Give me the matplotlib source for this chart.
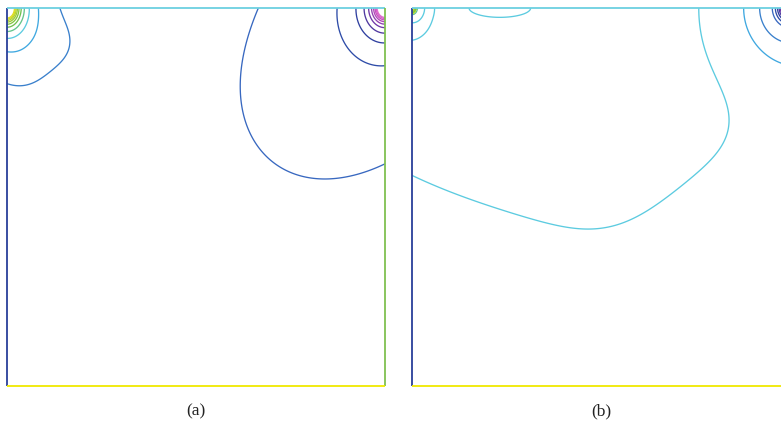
import numpy as np
import matplotlib
matplotlib.use("Agg")
import matplotlib.pyplot as plt

# ---------------- data ----------------
# contour levels (value 0 is not drawn) and their colours
LEVELS = [-10, -9, -8, -7, -6, -5, -4, -3, -2, -1, 1, 2, 3, 4, 5, 6, 7, 8, 9, 10]
LEVEL_COLORS = ['#e070d0', '#d860c8', '#c850c0', '#b048b8', '#9040b0', '#7038a8',
                '#5038a0', '#3040a0', '#2e4ca8', '#3868c0', '#3a80cc', '#40a8e0',
                '#5ccbe0', '#64c48c', '#70c050', '#84c440', '#9cca38', '#b4d030',
                '#ccd828', '#e0e020']

# panel (a): corner singularities + bumps + background
A_BASE, A_GY = -0.35, 0.0
A_SRC_X = [0.0, 1.0]
A_SRC_Y = [1.0, 1.0]
A_SRC_Q = [0.208, -0.20]
A_SRC_STRETCH = [1.35, 1.2]
A_BUMP_X = [0.71, 0.14, 0.05]
A_BUMP_Y = [0.74, 0.90, 0.83]
A_BUMP_AMP = [-0.54, 0.54, 0.30]
A_BUMP_SX = [0.27, 0.06, 0.05]
A_BUMP_SY = [0.30, 0.06, 0.05]
A_FILL_LEVEL = None

# panel (b)
B_BASE, B_GY = 2.83, 0.256
B_SRC_X = [0.0, 1.0]
B_SRC_Y = [1.0, 1.0]
B_SRC_Q = [0.03, -0.22]
B_SRC_STRETCH = [1.25, 1.1]
B_BUMP_X = [0.60, 0.235, 0.84, 0.52, 0.0]
B_BUMP_Y = [1.00, 1.0, 0.76, 0.36, 1.0]
B_BUMP_AMP = [0.834, -1.2, 0.14, 0.045, -1.3]
B_BUMP_SX = [0.40, 0.06, 0.12, 0.15, 0.052]
B_BUMP_SY = [0.40, 0.018, 0.12, 0.15, 0.065]
B_FILL_LEVEL = 4.5

# domain edge colours: left, top, right, bottom
EDGE_COLORS = ['#2a3f9a', '#6cd0e0', '#80c050', '#f0e800']
FILL_COLOR = '#f0e800'
CAPTIONS = ['(a)', '(b)']


def field(X, Y, base, gy, sx, sy, sq, sst, bx, by, ba, bsx, bsy):
    F = base + gy * Y
    for x0, y0, q, st in zip(sx, sy, sq, sst):
        r = np.sqrt((X - x0) ** 2 + ((Y - y0) / st) ** 2)
        F = F + q / np.maximum(r, 1e-4)
    for x0, y0, a, s1, s2 in zip(bx, by, ba, bsx, bsy):
        F = F + a * np.exp(-((X - x0) ** 2 / (2 * s1 ** 2) + (Y - y0) ** 2 / (2 * s2 ** 2)))
    return np.clip(F, -15, 15)


W, H = 781, 428
fig = plt.figure(figsize=(W / 100, H / 100), dpi=100)

g = np.linspace(0, 1, 1201)
X, Y = np.meshgrid(g, g)

panels = [
    (7, (A_BASE, A_GY, A_SRC_X, A_SRC_Y, A_SRC_Q, A_SRC_STRETCH,
         A_BUMP_X, A_BUMP_Y, A_BUMP_AMP, A_BUMP_SX, A_BUMP_SY), A_FILL_LEVEL),
    (412, (B_BASE, B_GY, B_SRC_X, B_SRC_Y, B_SRC_Q, B_SRC_STRETCH,
           B_BUMP_X, B_BUMP_Y, B_BUMP_AMP, B_BUMP_SX, B_BUMP_SY), B_FILL_LEVEL),
]

for i, (left_px, params, fill_level) in enumerate(panels):
    ax = fig.add_axes([left_px / W, 42 / H, 378 / W, 378 / H])
    F = field(X, Y, *params)
    if fill_level is not None:
        ax.contourf(X, Y, F, levels=[fill_level, 100], colors=[FILL_COLOR])
    ax.contour(X, Y, F, levels=LEVELS, colors=LEVEL_COLORS, linewidths=0.95,
               linestyles='solid')
    lw = 1.3
    ax.plot([0, 0], [0, 1], color=EDGE_COLORS[0], lw=lw, clip_on=False, solid_capstyle='butt')
    ax.plot([0, 1], [1, 1], color=EDGE_COLORS[1], lw=lw, clip_on=False, solid_capstyle='butt')
    ax.plot([1, 1], [0, 1], color=EDGE_COLORS[2], lw=lw, clip_on=False, solid_capstyle='butt')
    ax.plot([0, 1], [0, 0], color=EDGE_COLORS[3], lw=lw, clip_on=False, solid_capstyle='butt')
    ax.set_xlim(0, 1)
    ax.set_ylim(0, 1)
    ax.axis('off')
    ax.text(0.5, -0.068, CAPTIONS[i], transform=ax.transAxes, ha='center', va='center',
            fontsize=12.5, family=['Liberation Serif', 'DejaVu Serif'], color='#222222')

fig.savefig('out.png', dpi=100)
